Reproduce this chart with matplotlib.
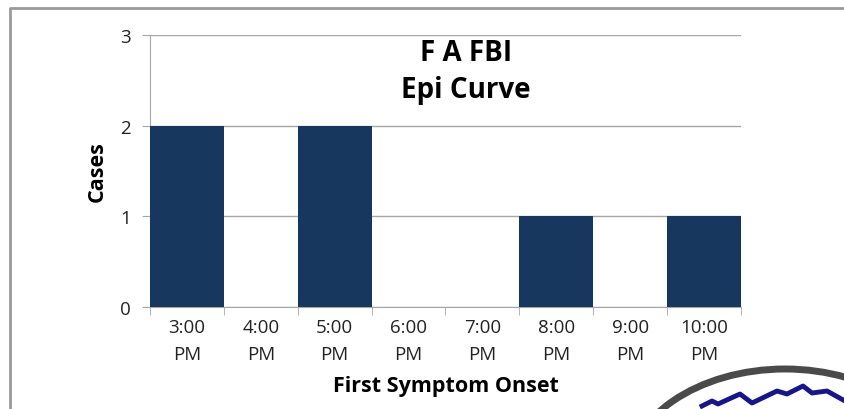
import matplotlib.pyplot as plt
from matplotlib.patches import Arc
from matplotlib.lines import Line2D
import numpy as np

plt.rcParams['font.family'] = ['Open Sans', 'DejaVu Sans']

# Chart data
hours = ['3:00\nPM', '4:00\nPM', '5:00\nPM', '6:00\nPM', '7:00\nPM',
         '8:00\nPM', '9:00\nPM', '10:00\nPM']
cases = [2, 0, 2, 0, 0, 1, 0, 1]
y_ticks = [0, 1, 2, 3]

W, H = 845, 410
fig = plt.figure(figsize=(W / 100, H / 100), dpi=100)
ax = fig.add_axes([150 / W, 1 - 308 / H, (741 - 150) / W, (308 - 36) / H])

x = np.arange(len(hours))
ax.bar(x, cases, width=1.0, color='#17375e', zorder=3)
ax.set_axisbelow(True)

ax.set_xlim(-0.5, len(hours) - 0.5)
ax.set_ylim(0, 3)
ax.set_yticks(y_ticks)
ax.set_yticklabels([str(v) for v in y_ticks], fontsize=13.5, color='#222222')
ax.yaxis.grid(True, color='#a6a6a6', linewidth=1.0)

ax.set_xticks(x)
ax.set_xticklabels(hours, fontsize=13.5, linespacing=1.6, color='#222222')
ax.set_xticks(np.arange(-0.5, len(hours)), minor=True)
ax.tick_params(axis='x', which='major', length=0, pad=8)
ax.tick_params(axis='x', which='minor', length=6, color='#a6a6a6')
ax.tick_params(axis='y', length=6, color='#a6a6a6', pad=8)

for side in ['top', 'right']:
    ax.spines[side].set_visible(False)
ax.spines['left'].set_color('#a6a6a6')
ax.spines['bottom'].set_color('#a6a6a6')

ax.set_ylabel('Cases', fontsize=15.5, fontweight='bold', labelpad=9)
ax.set_xlabel('First Symptom Onset', fontsize=15.5, fontweight='bold', labelpad=9)

ax.text(0.535, 0.868, 'F A FBI\nEpi Curve', transform=ax.transAxes,
        ha='center', va='center', fontsize=20, fontweight='bold',
        linespacing=1.35, zorder=5)

# outer frame
fig.add_artist(Line2D([10 / W, 10 / W, 1], [0, 1 - 9 / H, 1 - 9 / H],
                      color='#9a9a9a', linewidth=2, transform=fig.transFigure))

# logo fragment at bottom right
arc = Arc((785 / W, 1 - 480 / H), 318 / W, 220 / H, theta1=0, theta2=180,
          color='#4a4a4a', linewidth=5, transform=fig.transFigure)
fig.add_artist(arc)
mx = np.array([702, 712, 718, 740, 752, 777, 787, 803, 812, 827, 845])
my = np.array([407, 402, 405, 395, 404, 392, 395, 387, 394, 392, 402])
fig.add_artist(Line2D(mx / W, 1 - my / H, color='#16168a', linewidth=3.5,
                      transform=fig.transFigure))

fig.savefig('out.png', dpi=100)
